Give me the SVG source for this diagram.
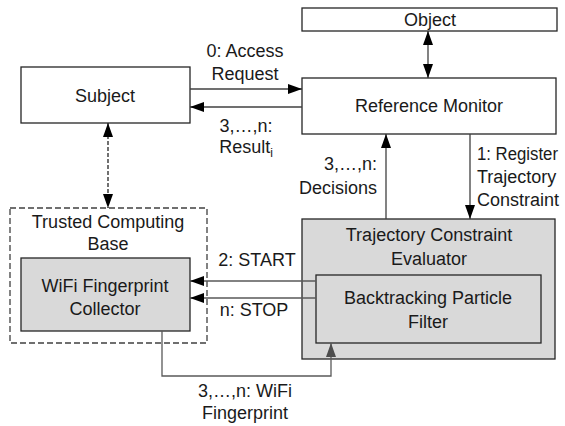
<svg xmlns="http://www.w3.org/2000/svg" width="565" height="426" viewBox="0 0 565 426">
  <style>
    text { font-family: "Liberation Sans", Arial, sans-serif; font-size: 18px; fill: #1a1a1a; }
    .c { text-anchor: middle; }
    .e { text-anchor: end; }
    .box { fill: #ffffff; stroke: #262626; stroke-width: 1.3; }
    .gbox { fill: #d9d9d9; stroke: #262626; stroke-width: 1.3; }
    .dbox { fill: none; stroke: #404040; stroke-width: 1.3; stroke-dasharray: 6 3; }
    .conn { fill: none; stroke: #404040; stroke-width: 1.3; }
    .gconn { fill: none; stroke: #595959; stroke-width: 1.3; }
    .dash { fill: none; stroke: #262626; stroke-width: 1.3; stroke-dasharray: 4 2; }
  </style>
  <defs>
    <marker id="ah" markerUnits="userSpaceOnUse" markerWidth="14" markerHeight="10" refX="14" refY="5" orient="auto-start-reverse">
      <path d="M0,0 L14,5 L0,10 z" fill="#000000"/>
    </marker>
    <marker id="gah" markerUnits="userSpaceOnUse" markerWidth="14" markerHeight="10" refX="14" refY="5" orient="auto-start-reverse">
      <path d="M0,0 L14,5 L0,10 z" fill="#4d4d4d"/>
    </marker>
  </defs>

  <g id="object">
    <rect class="box" x="302" y="8" width="255" height="23"/>
    <text class="c" x="430" y="26">Object</text>
  </g>
  <g id="reference-monitor">
    <rect class="box" x="302" y="78" width="254" height="56"/>
    <text class="c" x="429" y="112">Reference Monitor</text>
  </g>
  <g id="subject">
    <rect class="box" x="21" y="67" width="169" height="56"/>
    <text class="c" x="105" y="102">Subject</text>
  </g>
  <g id="trusted-computing-base">
    <rect class="dbox" x="10" y="208" width="197" height="135"/>
    <text class="c" x="108" y="228">Trusted Computing</text>
    <text class="c" x="108" y="250">Base</text>
  </g>
  <g id="wifi-fingerprint-collector">
    <rect class="gbox" x="21" y="258" width="169" height="73"/>
    <text class="c" x="105" y="292">WiFi Fingerprint</text>
    <text class="c" x="105" y="315">Collector</text>
  </g>
  <g id="trajectory-constraint-evaluator">
    <rect class="gbox" x="302" y="219" width="253" height="140"/>
    <text class="c" x="429" y="241">Trajectory Constraint</text>
    <text class="c" x="429" y="265">Evaluator</text>
  </g>
  <g id="backtracking-particle-filter">
    <rect class="gbox" x="316" y="275" width="225" height="68"/>
    <text class="c" x="428" y="304">Backtracking Particle</text>
    <text class="c" x="428" y="328">Filter</text>
  </g>

  <g id="connectors">
    <line class="conn" x1="428" y1="31" x2="428" y2="78" marker-start="url(#ah)" marker-end="url(#ah)"/>
    <line class="conn" x1="190" y1="89" x2="302" y2="89" marker-end="url(#ah)"/>
    <line class="conn" x1="302" y1="107" x2="190" y2="107" marker-end="url(#ah)"/>
    <line class="conn" x1="386" y1="219" x2="386" y2="134" marker-end="url(#ah)"/>
    <line class="conn" x1="470" y1="134" x2="470" y2="219" marker-end="url(#ah)"/>
    <line class="dash" x1="108" y1="123" x2="108" y2="208" marker-start="url(#ah)" marker-end="url(#ah)"/>
    <line class="gconn" x1="316" y1="281" x2="190" y2="281" marker-end="url(#ah)"/>
    <line class="gconn" x1="316" y1="298" x2="190" y2="298" marker-end="url(#ah)"/>
    <path class="gconn" d="M162,331 V376 H331 V343" marker-end="url(#gah)"/>

    <text class="c" x="245" y="57">0: Access</text>
    <text class="c" x="245" y="80">Request</text>
    <text class="c" x="246" y="132">3,…,n:</text>
    <text class="c" x="246" y="153">Result<tspan font-size="12" dy="4">i</tspan></text>
    <text class="e" x="377" y="170">3,…,n:</text>
    <text class="e" x="377" y="194">Decisions</text>
    <text x="477" y="160" textLength="81" lengthAdjust="spacingAndGlyphs">1: Register</text>
    <text x="477" y="183">Trajectory</text>
    <text x="477" y="206">Constraint</text>
    <text class="c" x="257" y="266">2: START</text>
    <text class="c" x="254" y="316">n: STOP</text>
    <text class="c" x="245" y="397">3,…,n: WiFi</text>
    <text class="c" x="245" y="419">Fingerprint</text>
  </g>
</svg>
